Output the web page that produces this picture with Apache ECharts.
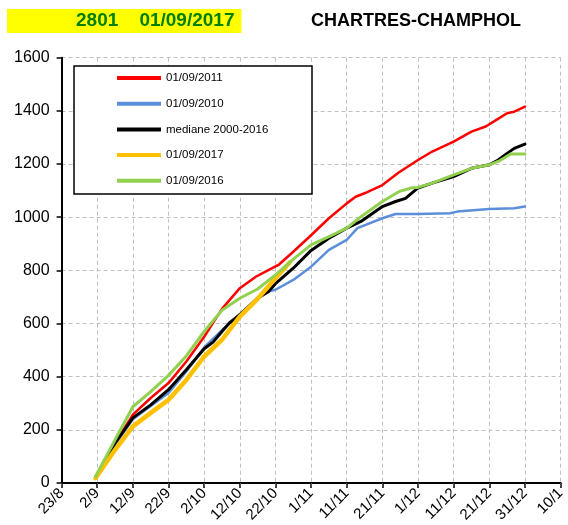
<!DOCTYPE html>
<html>
<head>
<meta charset="utf-8">
<script src="https://cdn.jsdelivr.net/npm/echarts@6/dist/echarts.min.js"></script>
<style>
  html, body { margin: 0; padding: 0; background: #fff; }
  #chart { width: 568px; height: 525px; }
</style>
</head>
<body>
<div id="chart"></div>
<script>
// x axis: days counted from 23/8, one tick every 10 days
const tickLabels = ['23/8', '2/9', '12/9', '22/9', '2/10', '12/10', '22/10', '1/11',
  '11/11', '21/11', '1/12', '11/12', '21/12', '31/12', '10/1']

const redDays = [9.5, 15, 20, 25, 30, 35, 40, 45, 50, 54.5, 58, 61, 65, 70, 75, 80,
  82.5, 85, 90, 94.6, 100, 104, 110, 115, 119, 122, 125, 127, 130]
const red2011 = [22, 150, 257, 320, 376, 457, 550, 655, 733, 776, 801, 822, 870, 932,
  996, 1052, 1077, 1090, 1121, 1168, 1215, 1247, 1284, 1322, 1341, 1366, 1391, 1397, 1416]

const blueDays = [9.5, 15, 20, 25, 30, 35, 40, 45, 50, 55, 57, 60, 65, 70, 75, 80, 83,
  90, 93.7, 100, 109, 111, 120, 127, 130]
const blue2010 = [22, 145, 240, 290, 339, 420, 510, 575, 635, 697, 718, 727, 764, 814,
  877, 915, 959, 996, 1012, 1012, 1015, 1021, 1031, 1034, 1040]

const medianDays = [9.5, 15, 20, 25, 30, 35, 40, 42.5, 45, 47, 50, 55, 58, 60, 65, 70,
  75, 80, 84, 90, 93.7, 96.5, 100, 104, 110, 115, 120, 122.5, 125, 127, 130]
const median = [22, 150, 245, 294, 351, 426, 505, 530, 570, 601, 633, 695, 720, 750,
  808, 875, 921, 959, 984, 1040, 1059, 1071, 1110, 1128, 1153, 1184, 1197, 1215, 1240,
  1259, 1275]

const yellowDays = [9.5, 15, 20, 25, 30, 35, 40, 45, 50, 55, 60, 64]
const yellow2017 = [18, 125, 213, 264, 313, 388, 476, 539, 626, 693, 770, 830]

const greenDays = [9.5, 15, 20, 25, 30, 35, 40, 45, 50, 55, 60, 65.7, 70, 75, 80, 84,
  90, 94.6, 98.3, 100, 104, 110, 115, 120, 123, 126, 130]
const green2016 = [24, 163, 287, 344, 405, 478, 570, 650, 695, 730, 783, 850, 896, 927,
  959, 1002, 1059, 1096, 1111, 1112, 1128, 1159, 1184, 1197, 1213, 1238, 1238]

const FONT = '"Liberation Sans", Arial, sans-serif'

function pairs(xs, ys) {
  return ys.map((v, i) => [xs[i], v])
}

function lineSeries(name, color, width, data) {
  return {
    name,
    type: 'line',
    symbol: 'none',
    data,
    lineStyle: { color, width, cap: 'round', join: 'round' },
    itemStyle: { color }
  }
}

const frameAxis = {
  min: 0,
  axisLabel: { show: false },
  splitLine: { show: false }
}

const chart = echarts.init(document.getElementById('chart'), null, { renderer: 'canvas' })

chart.setOption({
  animation: false,
  backgroundColor: '#ffffff',
  textStyle: { fontFamily: FONT },
  title: [
    {
      text: '2801    01/09/2017',
      left: 7,
      top: 9,
      backgroundColor: '#ffff00',
      padding: [2, 7, 2, 69],
      textStyle: { color: '#008000', fontSize: 19, fontWeight: 'bold', lineHeight: 20, fontFamily: FONT }
    },
    {
      text: 'CHARTRES-CHAMPHOL',
      left: 311,
      top: 11,
      padding: 0,
      textStyle: { color: '#000', fontSize: 18, fontWeight: 'bold', lineHeight: 20, fontFamily: FONT }
    }
  ],
  graphic: [
    {
      type: 'rect',
      z: 3,
      shape: { x: 74, y: 66, width: 238, height: 128 },
      style: { fill: '#fff', stroke: '#000', lineWidth: 1.5 }
    }
  ],
  legend: {
    z: 5,
    left: 117,
    top: 71,
    orient: 'vertical',
    padding: 0,
    itemGap: 11.7,
    itemWidth: 44,
    itemHeight: 4,
    icon: 'rect',
    textStyle: { color: '#000', fontSize: 11.5, lineHeight: 14, fontFamily: FONT },
    data: ['01/09/2011', '01/09/2010', 'mediane 2000-2016', '01/09/2017', '01/09/2016']
  },
  grid: {
    left: 61.6,
    right: 5.5,
    top: 57.7,
    bottom: 41.7
  },
  xAxis: [
    {
      type: 'value',
      min: 0,
      max: 140,
      interval: 10,
      axisLine: { show: true, lineStyle: { color: '#000', width: 2 } },
      axisTick: { show: true, length: 5, lineStyle: { color: '#000', width: 1.5 } },
      axisLabel: {
        rotate: 45,
        margin: 8,
        color: '#000',
        fontSize: 15,
        fontFamily: FONT,
        formatter: v => tickLabels[Math.round(v / 10)]
      },
      splitLine: { show: true, lineStyle: { color: '#c0c0c0', type: [4, 3], width: 1 } }
    },
    Object.assign({}, frameAxis, {
      type: 'value',
      position: 'top',
      max: 140,
      interval: 10,
      axisLine: { show: true, lineStyle: { color: '#000', width: 1.5 } },
      axisTick: { show: true, inside: true, length: 3, lineStyle: { color: '#555', width: 1 } }
    })
  ],
  yAxis: [
    {
      type: 'value',
      min: 0,
      max: 1600,
      interval: 200,
      axisLine: { show: true, lineStyle: { color: '#000', width: 2 } },
      axisTick: { show: true, length: 5, lineStyle: { color: '#000', width: 1.5 } },
      axisLabel: { color: '#000', fontSize: 16, margin: 12, fontFamily: FONT, formatter: v => String(v) },
      splitLine: { show: true, lineStyle: { color: '#c0c0c0', type: [4, 3], width: 1 } }
    },
    Object.assign({}, frameAxis, {
      type: 'value',
      position: 'right',
      max: 1600,
      interval: 200,
      axisLine: { show: true, lineStyle: { color: '#000', width: 1.5 } },
      axisTick: { show: false }
    })
  ],
  series: [
    lineSeries('01/09/2011', '#ff0000', 2.5, pairs(redDays, red2011)),
    lineSeries('01/09/2010', '#5b8fd9', 2.5, pairs(blueDays, blue2010)),
    lineSeries('mediane 2000-2016', '#000000', 3, pairs(medianDays, median)),
    lineSeries('01/09/2017', '#ffc000', 4.5, pairs(yellowDays, yellow2017)),
    lineSeries('01/09/2016', '#92d050', 3, pairs(greenDays, green2016))
  ]
})
</script>
</body>
</html>
